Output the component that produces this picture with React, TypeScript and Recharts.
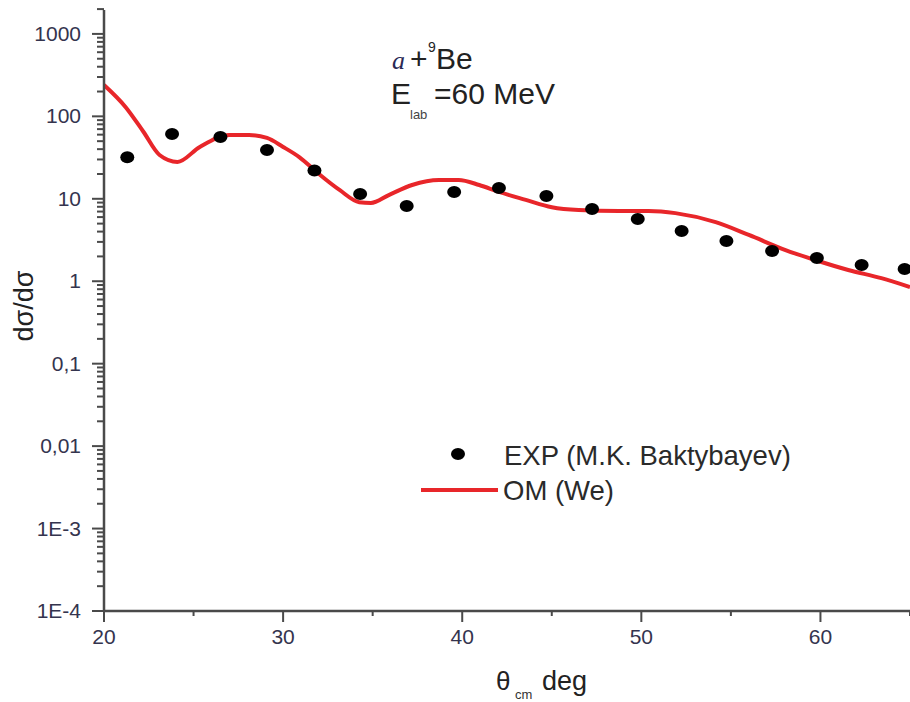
import { ComposedChart, Line, Scatter, XAxis, YAxis } from 'recharts'

// experimental points (theta cm, dsigma/dOmega)
const expTheta = [21.3, 23.8, 26.5, 29.1, 31.75, 34.3, 36.9, 39.55, 42.05, 44.7, 47.25, 49.8, 52.25, 54.75, 57.3, 59.8, 62.3, 64.7]
const expSigma = [32, 61, 56, 39, 22, 11.4, 8.2, 12.1, 13.5, 10.8, 7.5, 5.7, 4.06, 3.07, 2.32, 1.91, 1.57, 1.41]

// optical model curve
const omTheta = [20, 21.2, 22.2, 23.1, 24.1, 25.35, 27.0, 28.1, 29.1, 30.0, 30.9, 32.0, 33.15, 34.25, 34.9, 35.9, 37.2, 38.7, 39.8, 40.95, 42.05, 43.55, 45.0, 46.5, 48.75, 50.4, 51.9, 54.15, 56.0, 58.05, 59.7, 61.55, 63.4, 65]
const omSigma = [240, 130, 65, 34, 28, 42.6, 59.4, 59.4, 54.7, 42.6, 32.1, 20, 12.8, 9.1, 8.9, 11.1, 14.7, 16.9, 16.9, 14.7, 12.1, 9.7, 7.9, 7.3, 7.1, 7.1, 6.7, 5.2, 3.64, 2.39, 1.81, 1.37, 1.09, 0.85]

const xTicks = [20, 25, 30, 35, 40, 45, 50, 55, 60, 65]
const yDecades = [-4, -3, -2, -1, 0, 1, 2, 3]
const yLabels: Record<number, string> = {
  [-4]: '1E-4',
  [-3]: '1E-3',
  [-2]: '0,01',
  [-1]: '0,1',
  0: '1',
  1: '10',
  2: '100',
  3: '1000',
}

const expData = expTheta.map((t, i) => ({ theta: t, exp: expSigma[i] }))
const omData = omTheta.map((t, i) => ({ theta: t, om: omSigma[i] }))

const yTicks: number[] = []
yDecades.forEach((e) => {
  for (let m = 1; m <= 9; m++) yTicks.push(m * Math.pow(10, e))
})

const axisColor = '#4a4a4a'
const labelColor = '#34344e'
const font = '"Liberation Sans", Arial, sans-serif'

const XTick = (props: any) => {
  const { x, y, payload } = props
  const major = payload.value % 10 === 0
  return (
    <g>
      <line x1={x} x2={x} y1={y} y2={y + (major ? 11 : 5)} stroke={axisColor} strokeWidth={2} />
      {major && (
        <text x={x} y={y + 33} textAnchor="middle" fontSize={21} fontFamily={font} fill={labelColor}>
          {payload.value}
        </text>
      )}
    </g>
  )
}

const YTick = (props: any) => {
  const { x, y, payload } = props
  const lg = Math.log10(payload.value)
  const major = Math.abs(lg - Math.round(lg)) < 1e-6
  return (
    <g>
      <line x1={x - (major ? 12 : 7)} x2={x} y1={y} y2={y} stroke={axisColor} strokeWidth={2} />
      {major && (
        <text x={x - 23} y={y + 7} textAnchor="end" fontSize={21} fontFamily={font} fill={labelColor}>
          {yLabels[Math.round(lg)]}
        </text>
      )}
    </g>
  )
}

const Dot = (props: any) => {
  const { cx, cy } = props
  return <ellipse cx={cx} cy={cy} rx={7} ry={6} fill="#000" />
}

export default function App() {
  return (
    <div style={{ position: 'relative', width: 910, height: 702, background: '#fff' }}>
      <style>{'body{margin:0;overflow:hidden}'}</style>
      <ComposedChart width={910} height={702} margin={{ top: 10, right: 0, bottom: 0, left: 0 }}>
        <XAxis
          dataKey="theta"
          type="number"
          domain={[20, 65]}
          ticks={xTicks}
          interval={0}
          height={91}
          tickSize={0}
          tickMargin={0}
          tickLine={false}
          tick={<XTick />}
          stroke={axisColor}
          strokeWidth={2.5}
          allowDataOverflow
        />
        <YAxis
          type="number"
          scale="log"
          domain={[1e-4, 1950]}
          ticks={yTicks}
          interval={0}
          width={104}
          tickSize={0}
          tickMargin={0}
          tickLine={false}
          tick={<YTick />}
          stroke={axisColor}
          strokeWidth={2.5}
          allowDataOverflow
        />
        <Line
          data={omData}
          dataKey="om"
          type="monotone"
          stroke="#e8262a"
          strokeWidth={4}
          dot={false}
          isAnimationActive={false}
        />
        <Scatter data={expData} dataKey="exp" fill="#000" shape={<Dot />} isAnimationActive={false} />
      </ComposedChart>
      <svg
        width={910}
        height={702}
        style={{ position: 'absolute', left: 0, top: 0, pointerEvents: 'none' }}
      >
        <text x={392} y={69} fontSize={26} fontFamily='"Liberation Serif", serif' fontStyle="italic" fill="#2a2a55">
          a
        </text>
        <text x={410} y={69} fontSize={30} fontFamily={font} fill="#222">
          +
        </text>
        <text x={428} y={52} fontSize={14} fontFamily={font} fill="#222">
          9
        </text>
        <text x={436} y={69} fontSize={30} fontFamily={font} fill="#222">
          Be
        </text>
        <text x={391} y={104} fontSize={30} fontFamily={font} fill="#222">
          E
        </text>
        <text x={410} y={119} fontSize={13} fontFamily={font} fill="#444">
          lab
        </text>
        <text x={434} y={104} fontSize={30} fontFamily={font} fill="#222">
          =60 MeV
        </text>

        <ellipse cx={458} cy={454} rx={7} ry={6} fill="#000" />
        <text x={504} y={465} fontSize={27.5} fontFamily={font} fill="#2a2a2a">
          EXP (M.K. Baktybayev)
        </text>
        <line x1={421} x2={498} y1={490} y2={490} stroke="#e8262a" strokeWidth={4} />
        <text x={503} y={500} fontSize={27.5} fontFamily={font} fill="#2a2a2a">
          OM (We)
        </text>

        <text
          x={33}
          y={306}
          transform="rotate(-90 33 306)"
          textAnchor="middle"
          fontSize={27}
          fontFamily={font}
          fill="#222"
        >
          dσ/dσ
        </text>
        <text x={496} y={690} fontSize={26} fontFamily={font} fill="#222">
          θ
        </text>
        <text x={515} y={699} fontSize={13} fontFamily={font} fill="#333">
          cm
        </text>
        <text x={542} y={690} fontSize={27} fontFamily={font} fill="#222">
          deg
        </text>
      </svg>
    </div>
  )
}
